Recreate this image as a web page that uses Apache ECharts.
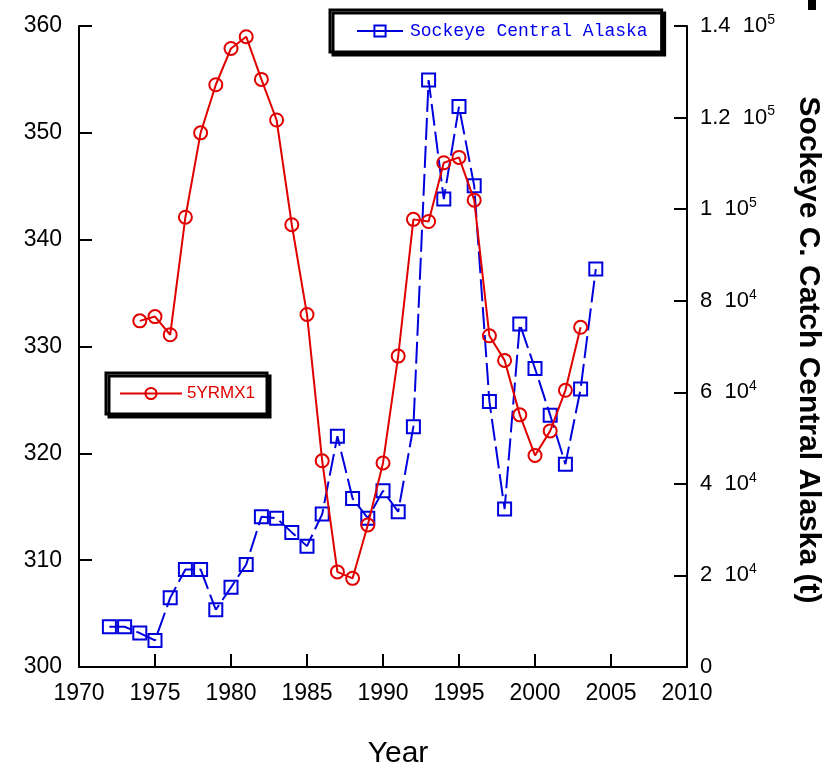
<!DOCTYPE html>
<html>
<head>
<meta charset="utf-8">
<title>Sockeye Central Alaska and 5YRMX1</title>
<script src="https://cdn.jsdelivr.net/npm/echarts@6/dist/echarts.min.js"></script>
<style>
  html, body { margin: 0; padding: 0; background: #fff; }
  #chart { width: 827px; height: 772px; }
</style>
</head>
<body>
<div id="chart"></div>
<script>
// 5-year running index (left axis)
const mxYears = [1974, 1975, 1976, 1977, 1978, 1979, 1980, 1981, 1982, 1983, 1984, 1985, 1986,
  1987, 1988, 1989, 1990, 1991, 1992, 1993, 1994, 1995, 1996, 1997, 1998, 1999, 2000, 2001, 2002, 2003];
const mxValues = [332.4, 332.8, 331.1, 342.1, 350.0, 354.5, 357.9, 359.0, 355.0, 351.2, 341.4, 333.0, 319.3,
  308.9, 308.3, 313.3, 319.1, 329.1, 341.9, 341.7, 347.2, 347.7, 343.7, 331.0, 328.7, 323.6, 319.8, 322.1, 325.9, 331.8];

// Sockeye catch, Central Alaska, tonnes (right axis)
const catchYears = [1972, 1973, 1974, 1975, 1976, 1977, 1978, 1979, 1980, 1981, 1982, 1983, 1984, 1985, 1986,
  1987, 1988, 1989, 1990, 1991, 1992, 1993, 1994, 1995, 1996, 1997, 1998, 1999, 2000, 2001, 2002, 2003, 2004];
const catchValues = [8800, 8800, 7400, 5800, 15100, 21300, 21300, 12500, 17400, 22400, 32800, 32500, 29400, 26400, 33400,
  50400, 36800, 32500, 38500, 33900, 52500, 128200, 102200, 122400, 105100, 58000, 34500, 74900, 65200, 55000, 44300, 60700, 86900];

// Axis ranges and tick steps
const yearAxis = { min: 1970, max: 2010, step: 5 };
const leftAxis = { min: 300, max: 360, step: 10 };
const rightAxis = { min: 0, max: 140000, step: 20000 };

const zip = (xs, ys) => xs.map((x, i) => [x, ys[i]]);

// "m 10^e" style labels for the catch axis
function sciLabel(v) {
  if (v === 0) return '{m|0}';
  const e = Math.floor(Math.log10(v) + 1e-9);
  const m = +(v / Math.pow(10, e)).toFixed(1);
  return '{m|' + m + '  10}{e|' + e + '}';
}

const chart = echarts.init(document.getElementById('chart'), null, { renderer: 'canvas' });
const axisFont = 'Liberation Sans, Arial, sans-serif';

chart.setOption({
  backgroundColor: '#fff',
  animation: false,
  grid: { left: 79, right: 140, top: 26, bottom: 105, containLabel: false, outerBoundsMode: 'none' },
  legend: [
    {
      data: ['Sockeye Central Alaska'],
      left: 330, top: 10,
      padding: [12, 14, 12, 26],
      itemWidth: 46, itemHeight: 14, itemGap: 0,
      backgroundColor: '#fff',
      borderColor: '#000', borderWidth: 3,
      shadowColor: '#000', shadowBlur: 0, shadowOffsetX: 3, shadowOffsetY: 3,
      lineStyle: { type: 'solid' },
      textStyle: { color: '#0000ee', fontFamily: 'Liberation Mono, DejaVu Sans Mono, monospace', fontSize: 18, padding: [0, 0, 0, 2] }
    },
    {
      data: ['5YRMX1'],
      left: 106, top: 373,
      padding: [12, 12, 12, 13],
      itemWidth: 62, itemHeight: 14, itemGap: 0,
      backgroundColor: '#fff',
      borderColor: '#000', borderWidth: 3,
      shadowColor: '#000', shadowBlur: 0, shadowOffsetX: 3, shadowOffsetY: 3,
      textStyle: { color: '#e00000', fontFamily: 'Liberation Sans, Arial, sans-serif', fontSize: 17, padding: [0, 0, 0, 0] }
    }
  ],
  xAxis: {
    type: 'value',
    min: yearAxis.min, max: yearAxis.max, interval: yearAxis.step,
    name: 'Year',
    nameLocation: 'middle',
    nameGap: 72,
    nameTextStyle: { color: '#000', fontFamily: axisFont, fontSize: 30, padding: [0, 0, 0, 30] },
    axisLine: { show: true, lineStyle: { color: '#000', width: 2 } },
    axisTick: { show: true, inside: true, length: 13, lineStyle: { color: '#000', width: 2 } },
    axisLabel: { color: '#000', fontFamily: axisFont, fontSize: 23, margin: 15, formatter: v => String(v) },
    splitLine: { show: false }
  },
  yAxis: [
    {
      type: 'value',
      position: 'left',
      min: leftAxis.min, max: leftAxis.max, interval: leftAxis.step,
      axisLine: { show: true, lineStyle: { color: '#000', width: 2 } },
      axisTick: { show: true, inside: true, length: 13, lineStyle: { color: '#000', width: 2 } },
      axisLabel: { color: '#000', fontFamily: axisFont, fontSize: 23, margin: 17 },
      splitLine: { show: false }
    },
    {
      type: 'value',
      position: 'right',
      min: rightAxis.min, max: rightAxis.max, interval: rightAxis.step,
      name: 'Sockeye C. Catch Central Alaska (t)',
      nameLocation: 'middle',
      nameRotate: -90,
      nameGap: 106,
      nameTextStyle: { color: '#000', fontFamily: axisFont, fontSize: 30, fontWeight: 'bold', padding: [0, 0, 0, 7] },
      axisLine: { show: true, lineStyle: { color: '#000', width: 2 } },
      axisTick: { show: true, inside: true, length: 13, lineStyle: { color: '#000', width: 2 } },
      axisLabel: {
        margin: 13,
        formatter: sciLabel,
        rich: {
          m: { color: '#000', fontFamily: axisFont, fontSize: 22 },
          e: { color: '#000', fontFamily: axisFont, fontSize: 14, padding: [0, 0, 12, 0] }
        }
      },
      splitLine: { show: false }
    }
  ],
  series: [
    {
      name: 'Sockeye Central Alaska',
      type: 'line',
      yAxisIndex: 1,
      data: zip(catchYears, catchValues),
      symbol: 'rect',
      symbolSize: 13,
      itemStyle: { color: 'rgba(0,0,0,0)', borderColor: '#0000dd', borderWidth: 2 },
      lineStyle: { color: '#0000dd', width: 2, type: [22, 6] },
      z: 2
    },
    {
      name: '5YRMX1',
      type: 'line',
      yAxisIndex: 0,
      data: zip(mxYears, mxValues),
      symbol: 'circle',
      symbolSize: 13,
      itemStyle: { color: 'rgba(0,0,0,0)', borderColor: '#e00000', borderWidth: 2 },
      lineStyle: { color: '#e00000', width: 2 },
      z: 3
    }
  ],
  graphic: [
    { type: 'rect', left: 808, top: 0, shape: { width: 8, height: 10 }, style: { fill: '#000' } }
  ]
});
</script>
</body>
</html>
